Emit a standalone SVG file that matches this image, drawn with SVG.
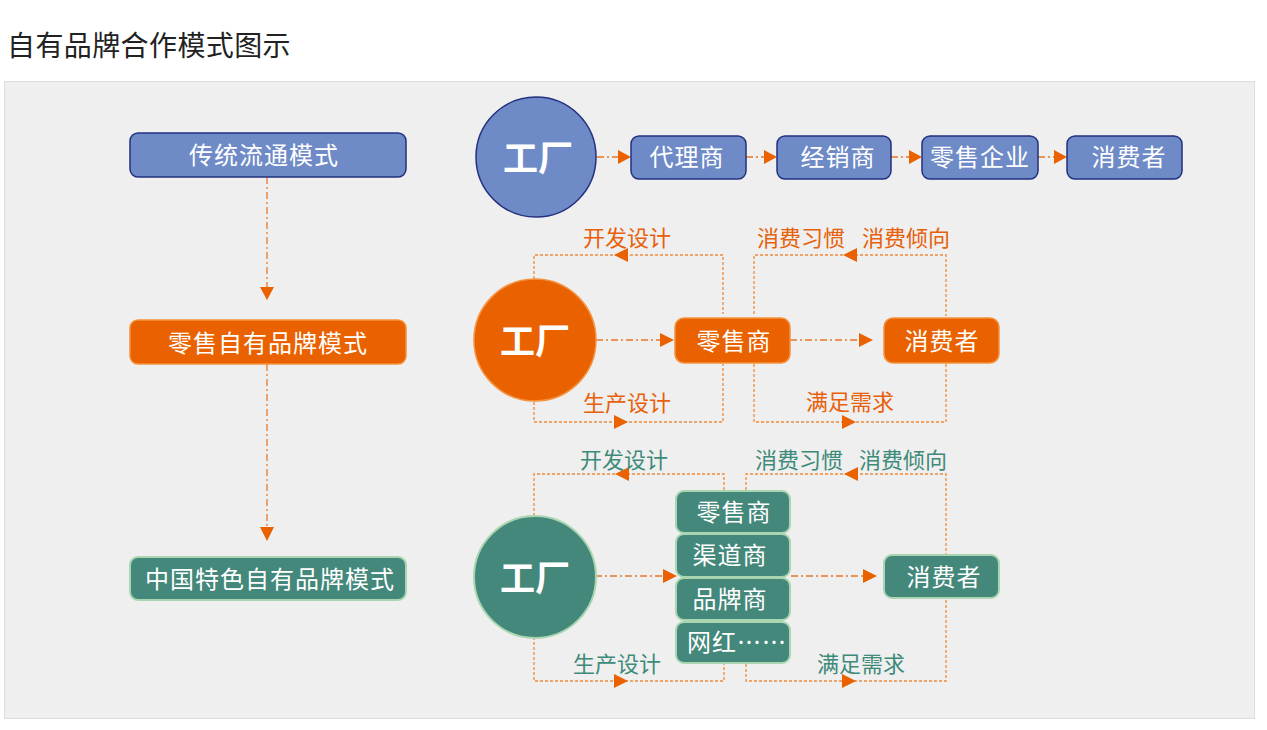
<svg xmlns="http://www.w3.org/2000/svg" width="1267" height="730" viewBox="0 0 1267 730">
<defs>
<style>
text{font-family:"Noto Sans CJK SC","Noto Sans",sans-serif;}
.title{font-size:28px;fill:#222;letter-spacing:0.4px;}
.lbl{font-size:24px;fill:#fff;text-anchor:middle;dominant-baseline:central;letter-spacing:1px;}
.big{font-size:35px;font-weight:bold;fill:#fff;text-anchor:middle;dominant-baseline:central;}
.blue{fill:#6f8bc7;stroke:#23307f;stroke-width:1.5;}
.orange{fill:#ea6200;stroke:#f3923f;stroke-width:1.5;}
.green{fill:#43887a;stroke:#a9d6b1;stroke-width:2;}
.main{fill:none;stroke:#e8782a;stroke-width:1.3;stroke-dasharray:7,3,2,3;}
.loop{fill:none;stroke:#ef8a3a;stroke-width:1.3;stroke-dasharray:3,2;}
.oT{font-size:22px;fill:#e8600a;text-anchor:middle;dominant-baseline:central;}
.gT{font-size:22px;fill:#3e8a7a;text-anchor:middle;dominant-baseline:central;}
.ah{fill:#ea6200;}
</style>
</defs>
<rect x="0" y="0" width="1267" height="730" fill="#fff"/>
<text class="title" x="7" y="56">自有品牌合作模式图示</text>
<rect x="4.5" y="81.5" width="1250" height="637" fill="#eeefee" stroke="#dcdcdc"/>

<g id="connectors">
<!-- left column -->
<line class="main" x1="267" y1="177" x2="267" y2="288"/>
<polygon class="ah" points="260,287 274,287 267,300"/>
<line class="main" x1="267" y1="364" x2="267" y2="528"/>
<polygon class="ah" points="260,527 274,527 267,541"/>
<!-- top row -->
<line class="main" x1="597" y1="157" x2="619" y2="157"/>
<polygon class="ah" points="618,150 618,164 631,157"/>
<line class="main" x1="746" y1="157" x2="765" y2="157"/>
<polygon class="ah" points="764,150 764,164 777,157"/>
<line class="main" x1="891" y1="157" x2="910" y2="157"/>
<polygon class="ah" points="909,150 909,164 922,157"/>
<line class="main" x1="1038" y1="157" x2="1055" y2="157"/>
<polygon class="ah" points="1054,150 1054,164 1067,157"/>
<!-- middle row -->
<line class="main" x1="596" y1="340" x2="660" y2="340"/>
<polygon class="ah" points="660,333 660,347 674,340"/>
<line class="main" x1="790" y1="340" x2="859" y2="340"/>
<polygon class="ah" points="859,333 859,347 873,340"/>
<polyline class="loop" points="534,279 534,255 723,255 723,314"/>
<polygon class="ah" points="628,248 628,262 614,255"/>
<polyline class="loop" points="534,402 534,422 723,422 723,364"/>
<polygon class="ah" points="614,415 614,429 628,422"/>
<polyline class="loop" points="754,314 754,255 946,255 946,316"/>
<polygon class="ah" points="857,248 857,262 843,255"/>
<polyline class="loop" points="754,364 754,422 946,422 946,364"/>
<polygon class="ah" points="842,415 842,429 856,422"/>
<!-- bottom row -->
<line class="main" x1="595" y1="576" x2="663" y2="576"/>
<polygon class="ah" points="663,569 663,583 677,576"/>
<line class="main" x1="791" y1="576" x2="863" y2="576"/>
<polygon class="ah" points="863,569 863,583 877,576"/>
<polyline class="loop" points="534,516 534,474 724,474 724,490"/>
<polygon class="ah" points="629,467 629,481 615,474"/>
<polyline class="loop" points="534,637 534,681 724,681 724,664"/>
<polygon class="ah" points="614,674 614,688 628,681"/>
<polyline class="loop" points="746,490 746,474 946,474 946,555"/>
<polygon class="ah" points="858,467 858,481 844,474"/>
<polyline class="loop" points="746,664 746,681 946,681 946,599"/>
<polygon class="ah" points="842,674 842,688 856,681"/>
</g>

<g id="labels">
<text class="oT" x="627" y="236">开发设计</text>
<text class="oT" x="627" y="401">生产设计</text>
<text class="oT" x="801" y="236">消费习惯</text>
<text class="oT" x="906" y="236">消费倾向</text>
<text class="oT" x="850" y="400">满足需求</text>
<text class="gT" x="624" y="458">开发设计</text>
<text class="gT" x="617" y="662">生产设计</text>
<text class="gT" x="799" y="458">消费习惯</text>
<text class="gT" x="903" y="458">消费倾向</text>
<text class="gT" x="861" y="662">满足需求</text>
</g>

<g id="mode-traditional"><rect class="blue" x="130" y="133" width="276" height="44" rx="8"/><text class="lbl" x="264" y="153">传统流通模式</text></g>
<g id="mode-retail"><rect class="orange" x="130" y="320" width="276" height="44" rx="8"/><text class="lbl" x="268" y="341">零售自有品牌模式</text></g>
<g id="mode-china"><rect class="green" x="130" y="557" width="276" height="43" rx="8"/><text class="lbl" x="270" y="577">中国特色自有品牌模式</text></g>

<g id="factory1"><ellipse class="blue" cx="536" cy="157" rx="60" ry="60"/><text class="big" x="538" y="155">工厂</text></g>
<g id="agent"><rect class="blue" x="631" y="136" width="115" height="43" rx="8"/><text class="lbl" x="687" y="155">代理商</text></g>
<g id="dealer"><rect class="blue" x="777" y="136" width="114" height="43" rx="8"/><text class="lbl" x="838" y="155">经销商</text></g>
<g id="retailer1"><rect class="blue" x="922" y="136" width="116" height="43" rx="8"/><text class="lbl" x="980" y="155">零售企业</text></g>
<g id="consumer1"><rect class="blue" x="1067" y="136" width="115" height="43" rx="8"/><text class="lbl" x="1129" y="155">消费者</text></g>

<g id="factory2"><circle class="orange" cx="535" cy="340" r="61"/><text class="big" x="535" y="338">工厂</text></g>
<g id="retailer2"><rect class="orange" x="675" y="318" width="115" height="45" rx="9"/><text class="lbl" x="734" y="339">零售商</text></g>
<g id="consumer2"><rect class="orange" x="884" y="318" width="115" height="45" rx="9"/><text class="lbl" x="942" y="339">消费者</text></g>

<g id="factory3"><circle class="green" cx="535" cy="577" r="61"/><text class="big" x="535" y="575">工厂</text></g>
<g id="retailer3"><rect class="green" x="676" y="491" width="114" height="42" rx="8"/><text class="lbl" x="734" y="510">零售商</text></g>
<g id="channel3"><rect class="green" x="676" y="534" width="114" height="43" rx="8"/><text class="lbl" x="730" y="553">渠道商</text></g>
<g id="brand3"><rect class="green" x="676" y="578" width="114" height="42" rx="8"/><text class="lbl" x="730" y="597">品牌商</text></g>
<g id="influencer3"><rect class="green" x="676" y="622" width="114" height="41" rx="8"/><text class="lbl" x="737" y="640">网红……</text></g>
<g id="consumer3"><rect class="green" x="884" y="555" width="115" height="43" rx="8"/><text class="lbl" x="944" y="575">消费者</text></g>
</svg>
